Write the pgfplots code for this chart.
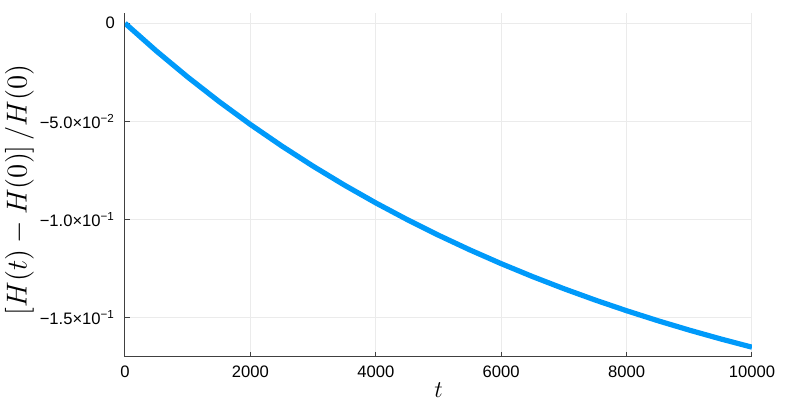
\documentclass[border=0pt]{standalone}
\usepackage{pgfplots}
\pgfplotsset{compat=1.18}
\usepackage{fontspec}
\setmainfont{Liberation Sans}
\definecolor{jblue}{RGB}{0,154,250}
\pgfplotstableread{
t y
0 0
500 -0.014154
1000 -0.027431
1500 -0.039889
2000 -0.051585
2500 -0.062533
3000 -0.072820
3500 -0.082469
4000 -0.091525
4500 -0.100015
5000 -0.107982
5500 -0.115457
6000 -0.122467
6500 -0.129045
7000 -0.135216
7500 -0.141005
8000 -0.146437
8500 -0.151532
9000 -0.156312
9500 -0.160796
10000 -0.165004
}\curve
\begin{document}
\begin{tikzpicture}
\begin{axis}[
  name=ax,
  scale only axis, width=313.5pt, height=172pt,
  xmin=0, xmax=10000, ymin=-0.170, ymax=0.0052,
  scaled ticks=false,
  axis lines*=left,
  axis line style={-, draw=black!75, line width=0.5pt},
  tick align=inside, major tick length=2.5pt,
  tick style={black!75, line width=0.5pt},
  xtick={0,2000,4000,6000,8000,10000},
  xticklabels={0,2000,4000,6000,8000,10000},
  ytick={-0.15,-0.1,-0.05,0},
  yticklabels={{−1.5×10\textsuperscript{−1}},{−1.0×10\textsuperscript{−1}},{−5.0×10\textsuperscript{−2}},0},
  grid=major, major grid style={black!8, line width=0.5pt},
  tick label style={font=\fontsize{8.3}{9}\selectfont},
  xticklabel style={yshift=-1pt},
  yticklabel style={xshift=-1.5pt},
  xlabel={$t$}, ylabel={$\left[H(t)-H(0)\right]/H(0)$},
  xlabel style={font=\fontsize{13.2}{14}\selectfont, at={(axis description cs:0.5,0)}, anchor=center, yshift=-16.5pt},
  ylabel style={font=\fontsize{14}{15}\selectfont, at={(axis description cs:0,0.5)}, anchor=center, yshift=52.8pt, xshift=-2.5pt},
  clip=true,
]
\addplot[jblue, line width=2.6pt] table[x=t,y=y] {\curve};
\end{axis}
\pgfresetboundingbox
\path[use as bounding box] ([shift={(-62.5pt,-21.5pt)}]ax.south west) rectangle ([shift={(24pt,6.5pt)}]ax.north east);
\end{tikzpicture}
\end{document}
